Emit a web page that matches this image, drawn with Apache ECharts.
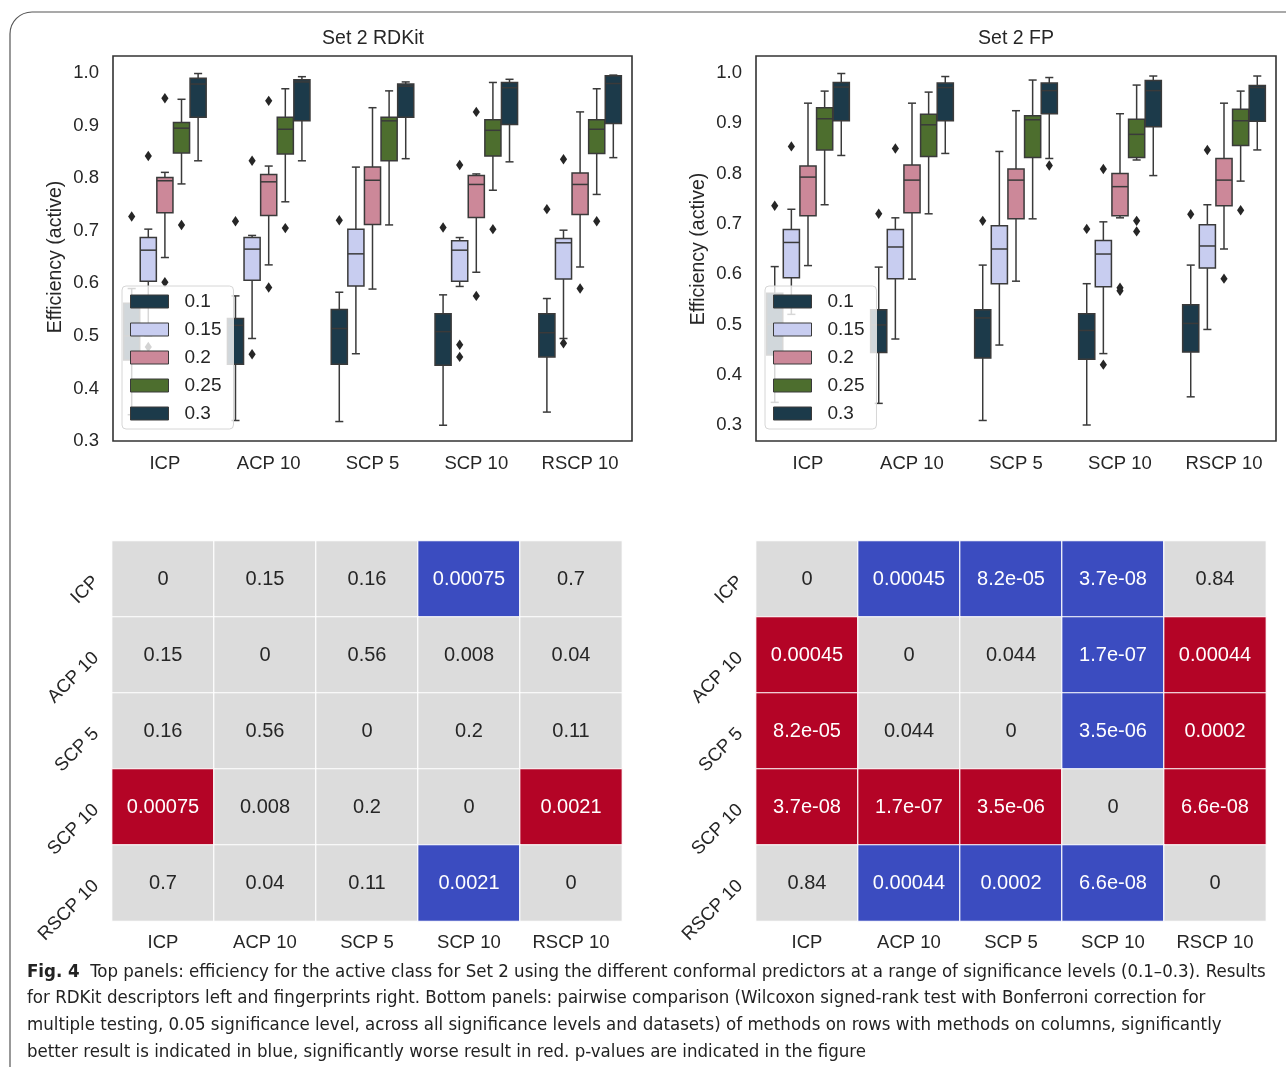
<!DOCTYPE html>
<html><head><meta charset="utf-8">
<script src="https://cdn.jsdelivr.net/npm/echarts/dist/echarts.min.js"></script>
<style>html,body{margin:0;padding:0;background:#fff}#c{width:1286px;height:1067px}</style>
</head><body><div id="c"></div><script>
// ---------- data ----------
const categories = ['ICP', 'ACP 10', 'SCP 5', 'SCP 10', 'RSCP 10'];
const hues = ['0.1', '0.15', '0.2', '0.25', '0.3'];
const yTicks = [0.3, 0.4, 0.5, 0.6, 0.7, 0.8, 0.9, 1.0];

// box stats per hue: one [min, q1, median, q3, max] per category
const rdkit_01  = [[0.350,0.454,0.500,0.562,0.590],[0.339,0.446,0.520,0.533,0.576],[0.337,0.446,0.514,0.550,0.583],[0.330,0.444,0.508,0.542,0.578],[0.355,0.460,0.506,0.542,0.571]];
const rdkit_015 = [[0.500,0.604,0.663,0.687,0.703],[0.495,0.606,0.665,0.687,0.691],[0.466,0.595,0.656,0.703,0.821],[0.594,0.604,0.663,0.681,0.687],[0.495,0.608,0.677,0.685,0.701]];
const rdkit_02  = [[0.649,0.734,0.795,0.801,0.811],[0.635,0.729,0.793,0.807,0.823],[0.589,0.712,0.796,0.821,0.934],[0.621,0.725,0.788,0.805,0.808],[0.631,0.731,0.788,0.810,0.926]];
const rdkit_025 = [[0.789,0.848,0.895,0.906,0.950],[0.755,0.846,0.893,0.916,0.970],[0.711,0.833,0.909,0.916,0.966],[0.777,0.842,0.891,0.911,0.982],[0.769,0.847,0.893,0.911,0.970]];
const rdkit_03  = [[0.833,0.916,0.979,0.990,0.999],[0.833,0.909,0.983,0.987,0.993],[0.837,0.916,0.975,0.979,0.983],[0.831,0.902,0.972,0.982,0.988],[0.839,0.904,0.980,0.995,0.996]];
// outliers per hue: [categoryIndex, value]
const rdkitOut_01  = [[0,0.727],[1,0.718],[2,0.720],[3,0.706],[4,0.741]];
const rdkitOut_015 = [[0,0.842],[0,0.479],[1,0.833],[1,0.465],[3,0.825],[3,0.483],[3,0.460],[4,0.836],[4,0.486]];
const rdkitOut_02  = [[0,0.952],[0,0.602],[1,0.947],[1,0.592],[3,0.926],[3,0.576],[4,0.590]];
const rdkitOut_025 = [[0,0.711],[1,0.705],[3,0.703],[4,0.718]];
const rdkitOut_03  = [];

const fp_01  = [[0.345,0.439,0.500,0.562,0.615],[0.343,0.444,0.499,0.529,0.614],[0.309,0.433,0.513,0.529,0.618],[0.300,0.431,0.488,0.521,0.581],[0.356,0.445,0.502,0.539,0.618]];
const fp_015 = [[0.520,0.593,0.663,0.689,0.729],[0.471,0.591,0.654,0.689,0.712],[0.459,0.581,0.650,0.696,0.844],[0.442,0.575,0.640,0.667,0.704],[0.490,0.612,0.656,0.698,0.738]];
const fp_02  = [[0.617,0.716,0.793,0.815,0.940],[0.590,0.722,0.787,0.817,0.940],[0.586,0.710,0.787,0.809,0.925],[0.712,0.716,0.774,0.800,0.919],[0.650,0.736,0.787,0.830,0.940]];
const fp_025 = [[0.738,0.847,0.909,0.931,0.964],[0.720,0.834,0.897,0.918,0.962],[0.710,0.832,0.907,0.915,0.986],[0.827,0.832,0.878,0.908,0.976],[0.785,0.856,0.905,0.928,0.964]];
const fp_03  = [[0.836,0.905,0.972,0.981,0.999],[0.840,0.905,0.971,0.980,0.993],[0.830,0.919,0.965,0.980,0.991],[0.796,0.893,0.965,0.985,0.994],[0.847,0.904,0.971,0.975,0.994]];
const fpOut_01  = [[0,0.736],[1,0.720],[2,0.706],[3,0.690],[4,0.719]];
const fpOut_015 = [[0,0.854],[1,0.850],[3,0.809],[3,0.420],[4,0.847]];
const fpOut_02  = [[3,0.573],[3,0.567],[4,0.591]];
const fpOut_025 = [[3,0.706],[3,0.685],[4,0.727]];
const fpOut_03  = [[2,0.816]];

// heatmaps: p-value labels (rows x columns) and result sign (1 better/blue, -1 worse/red, 0 n.s.)
const rdkitP = [
  ['0','0.15','0.16','0.00075','0.7'],
  ['0.15','0','0.56','0.008','0.04'],
  ['0.16','0.56','0','0.2','0.11'],
  ['0.00075','0.008','0.2','0','0.0021'],
  ['0.7','0.04','0.11','0.0021','0']];
const rdkitSign = [
  [0,0,0,1,0],
  [0,0,0,0,0],
  [0,0,0,0,0],
  [-1,0,0,0,-1],
  [0,0,0,1,0]];
const fpP = [
  ['0','0.00045','8.2e-05','3.7e-08','0.84'],
  ['0.00045','0','0.044','1.7e-07','0.00044'],
  ['8.2e-05','0.044','0','3.5e-06','0.0002'],
  ['3.7e-08','1.7e-07','3.5e-06','0','6.6e-08'],
  ['0.84','0.00044','0.0002','6.6e-08','0']];
const fpSign = [
  [0,1,1,1,0],
  [-1,0,0,1,-1],
  [-1,0,0,1,-1],
  [-1,-1,-1,0,-1],
  [0,1,1,1,0]];

const titles = ['Set 2 RDKit', 'Set 2 FP'];
const yName = 'Efficiency (active)';
const captionLines = [
  'Top panels: efficiency for the active class for Set 2 using the different conformal predictors at a range of significance levels (0.1–0.3). Results',
  'for RDKit descriptors left and fingerprints right. Bottom panels: pairwise comparison (Wilcoxon signed-rank test with Bonferroni correction for',
  'multiple testing, 0.05 significance level, across all significance levels and datasets) of methods on rows with methods on columns, significantly',
  'better result is indicated in blue, significantly worse result in red. p-values are indicated in the figure'];

// ---------- style ----------
const hueColors = ['#1c3a4a', '#c8cdf0', '#cc8899', '#4d6e2e', '#1c3a4a'];
const edge = '#3a3a3a';
const txt = '#262626';
const FONT = '"Liberation Sans", Arial, sans-serif';
const CAPFONT = '"Liberation Sans Narrow", "DejaVu Sans Condensed", "Liberation Sans", sans-serif';
const heatColors = { '-1': '#b40426', '0': '#dcdcdc', '1': '#3b4cc0' };

const boxSets = [[rdkit_01, rdkit_015, rdkit_02, rdkit_025, rdkit_03], [fp_01, fp_015, fp_02, fp_025, fp_03]];
const outSets = [[rdkitOut_01, rdkitOut_015, rdkitOut_02, rdkitOut_025, rdkitOut_03], [fpOut_01, fpOut_015, fpOut_02, fpOut_025, fpOut_03]];

function hueStep(api) { return api.size([1, 0])[0] * 0.8 / hues.length; }

function makeBoxRender(h) {
  return function (params, api) {
    const cat = api.value(0);
    const step = hueStep(api);
    const w = step * 0.97;
    const cx = api.coord([cat, 0.5])[0] + (h - (hues.length - 1) / 2) * step;
    const y = i => api.coord([cat, api.value(i)])[1];
    const yMin = y(1), yQ1 = y(2), yMed = y(3), yQ3 = y(4), yMax = y(5);
    const ls = { stroke: edge, lineWidth: 1.5 };
    const cap = w / 4;
    return { type: 'group', children: [
      { type: 'line', shape: { x1: cx, y1: yQ3, x2: cx, y2: yMax }, style: ls },
      { type: 'line', shape: { x1: cx, y1: yQ1, x2: cx, y2: yMin }, style: ls },
      { type: 'line', shape: { x1: cx - cap, y1: yMax, x2: cx + cap, y2: yMax }, style: ls },
      { type: 'line', shape: { x1: cx - cap, y1: yMin, x2: cx + cap, y2: yMin }, style: ls },
      { type: 'rect', shape: { x: cx - w / 2, y: yQ3, width: w, height: yQ1 - yQ3 },
        style: { fill: api.visual('color'), stroke: edge, lineWidth: 1.5 } },
      { type: 'line', shape: { x1: cx - w / 2, y1: yMed, x2: cx + w / 2, y2: yMed }, style: ls }
    ]};
  };
}
function makeOutRender(h) {
  return function (params, api) {
    const cat = api.value(0);
    const step = hueStep(api);
    const p = api.coord([cat, api.value(1)]);
    const cx = p[0] + (h - (hues.length - 1) / 2) * step, cy = p[1];
    const dx = 3.6, dy = 5.2;
    return { type: 'polygon', shape: { points: [[cx, cy - dy], [cx + dx, cy], [cx, cy + dy], [cx - dx, cy]] },
      style: { fill: '#262626' } };
  };
}

const series = [];
for (let p = 0; p < 2; p++) {
  for (let h = 0; h < hues.length; h++) {
    series.push({
      type: 'custom', name: hues[h], xAxisIndex: p, yAxisIndex: p,
      itemStyle: { color: hueColors[h] },
      encode: { x: 0, y: [1, 2, 3, 4, 5] },
      data: boxSets[p][h].map((d, i) => [i].concat(d)),
      renderItem: makeBoxRender(h), z: 2
    });
    series.push({
      type: 'custom', name: hues[h], xAxisIndex: p, yAxisIndex: p,
      itemStyle: { color: hueColors[h] },
      encode: { x: 0, y: 1 },
      data: outSets[p][h],
      renderItem: makeOutRender(h), z: 3
    });
  }
}
const heatSeriesIdx = [];
[[rdkitP, rdkitSign], [fpP, fpSign]].forEach(([P, S], k) => {
  const data = [];
  for (let r = 0; r < categories.length; r++)
    for (let c = 0; c < categories.length; c++)
      data.push({ value: [c, r, S[r][c]], label: { formatter: P[r][c], color: S[r][c] === 0 ? txt : '#ffffff' } });
  heatSeriesIdx.push(series.length);
  series.push({
    type: 'heatmap', xAxisIndex: 2 + k, yAxisIndex: 2 + k, data,
    itemStyle: { borderColor: '#ffffff', borderWidth: 1.2 },
    label: { show: true, fontSize: 20, fontFamily: FONT },
    emphasis: { disabled: true }
  });
});

const boxGrids = [
  { left: 113, top: 73, width: 519, height: 368 },
  { left: 756, top: 73, width: 520, height: 352 }
];
const heatGrids = [
  { left: 112, top: 541, width: 510, height: 380 },
  { left: 756, top: 541, width: 510, height: 380 }
];

const xAxes = [], yAxes = [];
[0, 1].forEach(p => {
  xAxes.push({ type: 'category', gridIndex: p, data: categories,
    axisLine: { show: false }, axisTick: { show: false },
    axisLabel: { fontSize: 18.5, color: txt, fontFamily: FONT, margin: p === 0 ? 13 : 29 } });
  yAxes.push({ type: 'value', gridIndex: p, min: 0.3, max: 1.0, interval: 0.1,
    axisLine: { show: false }, axisTick: { show: false }, splitLine: { show: false },
    axisLabel: { fontSize: 18.5, color: txt, fontFamily: FONT, margin: 14, formatter: v => v.toFixed(1) },
    name: yName, nameLocation: 'middle', nameRotate: 90, nameGap: 47,
    nameTextStyle: { fontSize: 19.5, color: txt, fontFamily: FONT } });
});
[0, 1].forEach(k => {
  xAxes.push({ type: 'category', gridIndex: 2 + k, data: categories,
    axisLine: { show: false }, axisTick: { show: false }, splitArea: { show: false },
    axisLabel: { fontSize: 18.5, color: txt, fontFamily: FONT, margin: 12 } });
  yAxes.push({ type: 'category', gridIndex: 2 + k, data: categories, inverse: true,
    axisLine: { show: false }, axisTick: { show: false }, splitArea: { show: false },
    axisLabel: { fontSize: 18.5, color: txt, fontFamily: FONT, margin: 16, rotate: 45 } });
});

const legendData = hues.map((n, h) => ({ name: n, itemStyle: { color: hueColors[h], borderColor: edge, borderWidth: 1 } }));
const legends = [122, 765].map(x => ({
  left: x, top: 286, orient: 'vertical', icon: 'rect', itemWidth: 38, itemHeight: 13, itemGap: 9,
  data: legendData, selectedMode: false,
  backgroundColor: 'rgba(255,255,255,0.8)', borderColor: '#d6d6d6', borderWidth: 1, borderRadius: 4,
  padding: [6, 12, 6, 8],
  textStyle: { fontSize: 19, color: txt, fontFamily: FONT, padding: [0, 0, 0, 11] }
}));

const graphics = [
  { type: 'rect', shape: { x: 10, y: 12, width: 1320, height: 1120, r: 22 }, style: { fill: 'none', stroke: '#555', lineWidth: 1.2 }, silent: true },
  { type: 'rect', shape: { x: 113, y: 56, width: 519, height: 385 }, style: { fill: 'none', stroke: '#333', lineWidth: 1.6 }, silent: true, z: 10 },
  { type: 'rect', shape: { x: 756, y: 56, width: 520, height: 385 }, style: { fill: 'none', stroke: '#333', lineWidth: 1.6 }, silent: true, z: 10 },
  { type: 'text', x: 373, y: 39, style: { text: titles[0], fontSize: 19.5, fill: txt, fontFamily: FONT, textAlign: 'center', textVerticalAlign: 'middle' } },
  { type: 'text', x: 1016, y: 39, style: { text: titles[1], fontSize: 19.5, fill: txt, fontFamily: FONT, textAlign: 'center', textVerticalAlign: 'middle' } }
];
const capY = [972, 998, 1025, 1052];
captionLines.forEach((line, i) => {
  graphics.push({ type: 'text', x: 27, y: capY[i], style: {
    text: i === 0 ? '{b|Fig. 4}  ' + line : line,
    fontSize: 18.5, fill: '#222', fontFamily: CAPFONT, textVerticalAlign: 'middle',
    rich: { b: { fontWeight: 'bold', fontSize: 18.5, fontFamily: CAPFONT, fill: '#222' } } } });
});

const chart = echarts.init(document.getElementById('c'), null, { renderer: 'canvas' });
chart.setOption({
  backgroundColor: '#ffffff',
  animation: false,
  grid: boxGrids.concat(heatGrids),
  xAxis: xAxes, yAxis: yAxes,
  legend: legends,
  visualMap: [{ type: 'piecewise', show: false, dimension: 2, seriesIndex: heatSeriesIdx,
    pieces: [{ value: -1, color: heatColors['-1'] }, { value: 0, color: heatColors['0'] }, { value: 1, color: heatColors['1'] }] }],
  series,
  graphic: graphics
});
</script></body></html>
